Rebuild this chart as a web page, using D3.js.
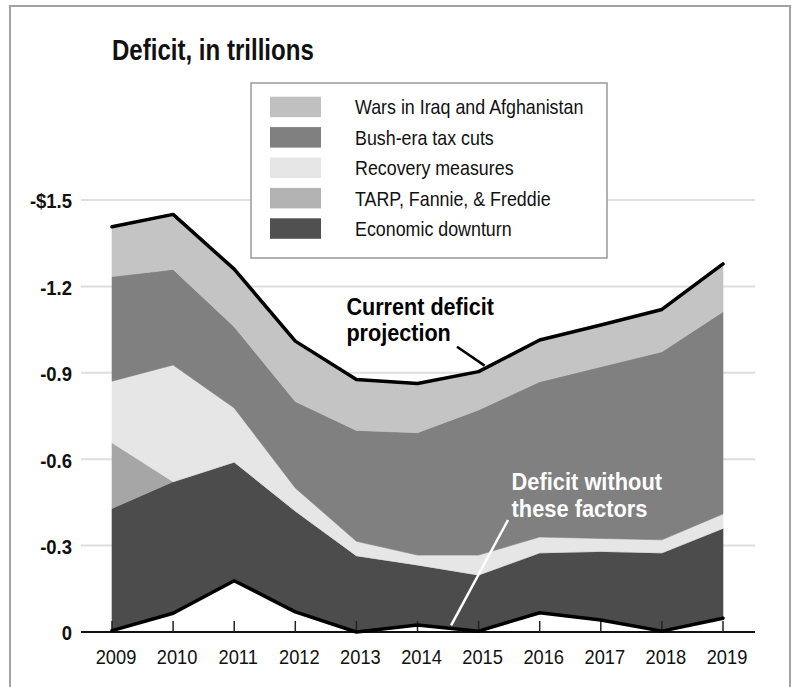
<!DOCTYPE html>
<html>
<head>
<meta charset="utf-8">
<script src="https://cdn.jsdelivr.net/npm/d3@7"></script>
<style>
  body { margin: 0; background: #fff; }
  svg { display: block; }
  text { font-family: "Liberation Sans", Arial, Helvetica, sans-serif; }
</style>
</head>
<body>
<svg id="chart" width="795" height="687"></svg>
<script>
// Fiscal years on the x axis
const years = [2009, 2010, 2011, 2012, 2013, 2014, 2015, 2016, 2017, 2018, 2019];

// Deficit without these factors (the stack's baseline), in trillions
const withoutFactors    = [0.005, 0.065, 0.178, 0.070, 0.000, 0.024, 0.003, 0.067, 0.042, 0.003, 0.048];
// Contributions stacked on top of the baseline, in trillions
const economicDownturn  = [0.424, 0.457, 0.412, 0.350, 0.265, 0.209, 0.195, 0.208, 0.238, 0.272, 0.312];
const tarpFannieFreddie = [0.228, 0.000, 0.000, 0.000, 0.000, 0.000, 0.000, 0.000, 0.000, 0.000, 0.000];
const recoveryMeasures  = [0.214, 0.405, 0.188, 0.080, 0.050, 0.034, 0.069, 0.055, 0.045, 0.045, 0.050];
const bushTaxCuts       = [0.363, 0.332, 0.282, 0.300, 0.385, 0.425, 0.504, 0.539, 0.596, 0.653, 0.702];
const warsIraqAfghan    = [0.173, 0.191, 0.200, 0.210, 0.177, 0.171, 0.133, 0.145, 0.145, 0.147, 0.166];

const yTickValues = [0, 0.3, 0.6, 0.9, 1.2, 1.5];
const yTickLabels = ["0", "-0.3", "-0.6", "-0.9", "-1.2", "-$1.5"];

const seriesKeys   = ["base", "econ", "tarp", "recovery", "bush", "wars"];
const seriesValues = [withoutFactors, economicDownturn, tarpFannieFreddie, recoveryMeasures, bushTaxCuts, warsIraqAfghan];
const areaFill = { econ: "#4c4c4c", tarp: "#a6a6a6", recovery: "#e6e6e6", bush: "#808080", wars: "#c4c4c4" };

// Legend, top to bottom
const legendKeys   = ["wars", "bush", "recovery", "tarp", "econ"];
const legendLabels = ["Wars in Iraq and Afghanistan", "Bush-era tax cuts", "Recovery measures", "TARP, Fannie, & Freddie", "Economic downturn"];
const legendFill   = { wars: "#c0c0c0", bush: "#808080", recovery: "#e6e6e6", tarp: "#b3b3b3", econ: "#505050" };

const svg = d3.select("#chart");

// Condensed lettering: place a text at (x, y) and squeeze it horizontally around its anchor
function placeText(sel, px, py, sx) {
  return sel.attr("transform", `translate(${px},${py}) scale(${sx},1)`);
}

// rows for the stack generator
const rows = years.map((yr, i) => {
  const r = { year: yr };
  seriesKeys.forEach((k, j) => { r[k] = seriesValues[j][i]; });
  return r;
});
const layers = d3.stack().keys(seriesKeys)(rows);

const x = d3.scaleLinear().domain([2009, 2019]).range([112, 723]);
const y = d3.scaleLinear().domain([0, 1.5]).range([632, 200]);
const gridX0 = 81, gridX1 = 755;

// outer frame (open at the bottom)
svg.append("path")
  .attr("d", "M10,700 V6 H790 V700")
  .attr("fill", "none").attr("stroke", "#a3a3a3").attr("stroke-width", 2);

// title
svg.append("text")
  .call(placeText, 112, 60, 0.83)
  .attr("font-size", 29).attr("font-weight", "bold").attr("fill", "#111")
  .text("Deficit, in trillions");

// horizontal gridlines
svg.append("g").selectAll("line")
  .data(yTickValues.filter(v => v > 0))
  .join("line")
  .attr("x1", gridX0).attr("x2", gridX1)
  .attr("y1", d => y(d)).attr("y2", d => y(d))
  .attr("stroke", "#dedede").attr("stroke-width", 2);

// y tick labels
svg.append("g").selectAll("text")
  .data(yTickValues)
  .join("text")
  .each(function (d) { placeText(d3.select(this), 72, y(d), 0.88); })
  .attr("dy", "0.4em")
  .attr("text-anchor", "end")
  .attr("font-size", 21).attr("font-weight", "bold").attr("fill", "#111")
  .text((d, i) => yTickLabels[i]);

// stacked areas
const area = d3.area()
  .x(d => x(d.data.year))
  .y0(d => y(d[0]))
  .y1(d => y(d[1]));

svg.append("g").selectAll("path")
  .data(layers.filter(l => l.key !== "base"))
  .join("path")
  .attr("d", area)
  .attr("fill", l => areaFill[l.key])
  .attr("stroke", l => areaFill[l.key])
  .attr("stroke-width", 0.6);

// x axis line, ticks and labels
svg.append("line")
  .attr("x1", gridX0).attr("x2", gridX1)
  .attr("y1", y(0)).attr("y2", y(0))
  .attr("stroke", "#111").attr("stroke-width", 2.2);

svg.append("g").selectAll("line")
  .data(years)
  .join("line")
  .attr("x1", d => x(d)).attr("x2", d => x(d))
  .attr("y1", y(0)).attr("y2", y(0) - 11)
  .attr("stroke", "#222").attr("stroke-width", 1.5);

svg.append("g").selectAll("text")
  .data(years)
  .join("text")
  .each(function (d) { placeText(d3.select(this), x(d) + 4, 664, 0.87); })
  .attr("text-anchor", "middle")
  .attr("font-size", 21).attr("fill", "#111")
  .text(d => d);

// current projection (top of the stack) and deficit without the factors (baseline)
const topLayer = layers[layers.length - 1];
const baseLayer = layers[0];
const line = d3.line().x(d => x(d.data.year)).y(d => y(d[1]));

[topLayer, baseLayer].forEach(l => {
  svg.append("path")
    .attr("d", line(l))
    .attr("fill", "none")
    .attr("stroke", "#000")
    .attr("stroke-width", 3.5)
    .attr("stroke-linejoin", "round")
    .attr("stroke-linecap", "round");
});

// annotation: current deficit projection
const ann1 = svg.append("text")
  .call(placeText, x(2013) - 10, y(1.1), 0.9)
  .attr("font-size", 24).attr("font-weight", "bold").attr("fill", "#000");
ann1.append("tspan").attr("x", 0).text("Current deficit");
ann1.append("tspan").attr("x", 0).attr("dy", 26).text("projection");

const topAt2015 = topLayer[years.indexOf(2015)][1];
svg.append("line")
  .attr("x1", 457).attr("y1", 346.7)
  .attr("x2", x(2015) + 6).attr("y2", y(topAt2015) - 6)
  .attr("stroke", "#000").attr("stroke-width", 2.5);

// annotation: deficit without these factors
const ann2 = svg.append("text")
  .call(placeText, x(2015) + 33, 490, 0.91)
  .attr("font-size", 24).attr("font-weight", "bold").attr("fill", "#fff");
ann2.append("tspan").attr("x", 0).text("Deficit without");
ann2.append("tspan").attr("x", 0).attr("dy", 27).text("these factors");

const i14 = years.indexOf(2014), i15 = years.indexOf(2015);
const baseMid = d3.interpolateNumber(baseLayer[i14][1], baseLayer[i15][1])(0.55);
svg.append("line")
  .attr("x1", 508).attr("y1", 520)
  .attr("x2", x(2014.55)).attr("y2", y(baseMid) - 3)
  .attr("stroke", "#fff").attr("stroke-width", 2.5);

// legend
const lg = svg.append("g");
lg.append("rect")
  .attr("x", 251).attr("y", 83).attr("width", 356).attr("height", 175)
  .attr("fill", "#fff").attr("stroke", "#999").attr("stroke-width", 1.5);

const items = lg.selectAll("g.item")
  .data(legendKeys)
  .join("g")
  .attr("class", "item")
  .attr("transform", (d, i) => `translate(270, ${96.7 + i * 30.4})`);
items.append("rect")
  .attr("width", 51).attr("height", 20.5)
  .attr("fill", d => legendFill[d]);
items.append("text")
  .call(placeText, 85, 17.6, 0.85)
  .attr("font-size", 21).attr("fill", "#111")
  .text((d, i) => legendLabels[i]);
</script>
</body>
</html>
